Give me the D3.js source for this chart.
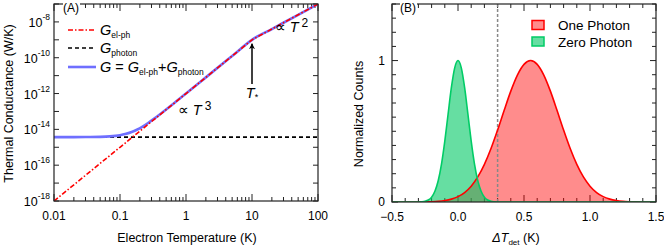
<!DOCTYPE html>
<html>
<head>
<meta charset="utf-8">
<script src="https://cdn.jsdelivr.net/npm/d3@7"></script>
<style>
  body { margin: 0; background: #fff; }
  svg text { font-family: "Liberation Sans", Arial, sans-serif; fill: #000; }
  .frame { fill: none; stroke: #222; stroke-width: 1.2; }
</style>
</head>
<body>
<div id="chart"></div>
<script>
// Panel A data: temperatures (K) and conductances (W/K)
const tempK = [0.01, 0.02, 0.03, 0.05, 0.07, 0.1, 0.12, 0.15, 0.18, 0.22, 0.27, 0.33, 0.4, 0.5, 0.7, 1, 2, 5, 10, 20, 50, 100];
const gElPh = [1e-18, 8e-18, 2.7e-17, 1.25e-16, 3.43e-16, 1e-15, 1.73e-15, 3.38e-15, 5.83e-15, 1.06e-14, 1.97e-14, 3.59e-14, 6.4e-14, 1.25e-13, 3.43e-13, 1e-12, 8e-12, 1.25e-10, 1e-9, 4e-9, 2.5e-8, 1e-7];
const gPhoton = 3.7e-15;
const yExpLabels = [-18, -16, -14, -12, -10, -8];
const xTickLabelsA = [0.01, 0.1, 1, 10, 100];

// Panel B data: detector temperature rise (K) vs normalized counts
const dTone = [-0.5, -0.45, -0.4, -0.35, -0.3, -0.25, -0.2, -0.15, -0.1, -0.05, 0, 0.05, 0.1, 0.15, 0.2, 0.25, 0.3, 0.35, 0.4, 0.45, 0.5, 0.55, 0.6, 0.65, 0.7, 0.75, 0.8, 0.85, 0.9, 0.95, 1.0, 1.05, 1.1, 1.15, 1.2, 1.25, 1.3, 1.35, 1.4, 1.45, 1.5];
const onePhoton = [0, 0, 0, 0.0002, 0.0004, 0.001, 0.0023, 0.005, 0.0104, 0.0204, 0.0379, 0.0669, 0.1119, 0.1771, 0.2658, 0.3778, 0.5086, 0.6488, 0.784, 0.8975, 0.9733, 1, 0.9733, 0.8975, 0.784, 0.6488, 0.5086, 0.3778, 0.2658, 0.1771, 0.1119, 0.0669, 0.0379, 0.0204, 0.0104, 0.005, 0.0023, 0.001, 0.0004, 0.0002, 0];
const dTzero = [-0.5, -0.35, -0.3, -0.275, -0.25, -0.225, -0.2, -0.175, -0.15, -0.125, -0.1, -0.075, -0.05, -0.025, 0, 0.025, 0.05, 0.075, 0.1, 0.125, 0.15, 0.175, 0.2, 0.225, 0.25, 0.275, 0.3, 0.35, 1.5];
const zeroPhoton = [0, 0, 0.0005, 0.0017, 0.0051, 0.014, 0.0343, 0.0756, 0.1499, 0.2678, 0.4303, 0.6223, 0.81, 0.9487, 1, 0.9487, 0.81, 0.6223, 0.4303, 0.2678, 0.1499, 0.0756, 0.0343, 0.014, 0.0051, 0.0017, 0.0005, 0, 0];
const threshold = 0.3;
const legendB = ["One Photon", "Zero Photon"];
const xTickLabelsB = [-0.5, 0, 0.5, 1, 1.5];

const W = 664, H = 246;
let svg = d3.select("#chart").append("svg")
  .attr("width", W).attr("height", H);

// ---------- Panel A ----------
const a = { left: 54, right: 318, top: 4, bottom: 201 };
let xA = d3.scaleLog().domain([0.01, 100]).range([a.left, a.right]);
let yA = d3.scaleLog().domain([1e-18, 1e-7]).range([a.bottom, a.top]);

let gA = svg.append("g");

// minor / major x ticks (log)
let xTicksA = [];
for (let p = -2; p < 2; p++) for (let m = 1; m < 10; m++) xTicksA.push(m * Math.pow(10, p));
xTicksA.push(100);
xTicksA.forEach(t => {
  const major = xTickLabelsA.includes(+t.toPrecision(3));
  const len = major ? 7 : 4;
  gA.append("line").attr("x1", xA(t)).attr("x2", xA(t)).attr("y1", a.bottom).attr("y2", a.bottom - len).attr("stroke", "#222");
  gA.append("line").attr("x1", xA(t)).attr("x2", xA(t)).attr("y1", a.top).attr("y2", a.top + len).attr("stroke", "#222");
});
xTickLabelsA.forEach(t => {
  gA.append("text").attr("x", xA(t)).attr("y", a.bottom + 19)
    .attr("text-anchor", "middle").attr("font-size", 12).text(t);
});

// y ticks each decade
d3.range(-18, -6).forEach(p => {
  const v = Math.pow(10, p);
  gA.append("line").attr("x1", a.left).attr("x2", a.left + 5).attr("y1", yA(v)).attr("y2", yA(v)).attr("stroke", "#222");
  gA.append("line").attr("x1", a.right).attr("x2", a.right - 5).attr("y1", yA(v)).attr("y2", yA(v)).attr("stroke", "#222");
});
yExpLabels.forEach(p => {
  const t = gA.append("text").attr("x", a.left - 4).attr("y", yA(Math.pow(10, p)) + 5)
    .attr("text-anchor", "end").attr("font-size", 12.5);
  t.append("tspan").text("10");
  t.append("tspan").attr("dy", -7).attr("font-size", 8.5).text("-" + Math.abs(p));
});

// axis titles
gA.append("text").attr("transform", "translate(13," + ((a.top + a.bottom) / 2 + 1) + ") rotate(-90)")
  .attr("text-anchor", "middle").attr("font-size", 12.5).text("Thermal Conductance (W/K)");
gA.append("text").attr("x", (a.left + a.right) / 2 + 1).attr("y", 242)
  .attr("text-anchor", "middle").attr("font-size", 12.5).text("Electron Temperature (K)");

// curves
const clipA = svg.append("clipPath").attr("id", "clipA").append("rect")
  .attr("x", a.left).attr("y", a.top).attr("width", a.right - a.left).attr("height", a.bottom - a.top);
let plotA = gA.append("g").attr("clip-path", "url(#clipA)");

const pts = tempK.map((t, i) => ({ t, el: gElPh[i], tot: gElPh[i] + gPhoton }));
const lineTot = d3.line().x(d => xA(d.t)).y(d => yA(d.tot)).curve(d3.curveMonotoneX);
const lineEl = d3.line().x(d => xA(d.t)).y(d => yA(d.el));

plotA.append("line").attr("x1", xA(0.01)).attr("x2", xA(100))
  .attr("y1", yA(gPhoton)).attr("y2", yA(gPhoton))
  .attr("stroke", "#000").attr("stroke-width", 1.6).attr("stroke-dasharray", "4,3");
plotA.append("path").datum(pts).attr("d", lineTot)
  .attr("fill", "none").attr("stroke", "#6f6fff").attr("stroke-width", 2.6);
plotA.append("path").datum(pts).attr("d", lineEl)
  .attr("fill", "none").attr("stroke", "#ff0000").attr("stroke-width", 1.6)
  .attr("stroke-dasharray", "5,2,1.5,2");

gA.append("rect").attr("class", "frame")
  .attr("x", a.left).attr("y", a.top).attr("width", a.right - a.left).attr("height", a.bottom - a.top);

// panel label (sits over the frame)
gA.append("rect").attr("x", a.left + 9).attr("y", a.top - 3).attr("width", 17).attr("height", 11).attr("fill", "#fff");
gA.append("text").attr("x", a.left + 9).attr("y", a.top + 8).attr("font-size", 12).text("(A)");

// legend A
const legA = gA.append("g");
const legRows = [
  { y: 30, stroke: "#ff0000", w: 1.6, dash: "5,2,1.5,2", parts: [["G", ""], ["el-ph", "sub"]] },
  { y: 48, stroke: "#000", w: 1.6, dash: "4,3", parts: [["G", ""], ["photon", "sub"]] },
  { y: 67, stroke: "#6f6fff", w: 2.6, dash: null, parts: [["G", ""], [" = ", "up"], ["G", ""], ["el-ph", "sub"], ["+", "up"], ["G", ""], ["photon", "sub"]] }
];
legRows.forEach(r => {
  legA.append("line").attr("x1", 68).attr("x2", 96).attr("y1", r.y).attr("y2", r.y)
    .attr("stroke", r.stroke).attr("stroke-width", r.w).attr("stroke-dasharray", r.dash);
  const t = legA.append("text").attr("x", 100).attr("y", r.y + 5).attr("font-size", 14.5);
  let low = false;
  r.parts.forEach(([s, k]) => {
    const sp = t.append("tspan").text(s);
    if (k === "sub") {
      sp.attr("font-size", 8.5).attr("dy", low ? 0 : 3); low = true;
    } else {
      sp.attr("dy", low ? -3 : 0); low = false;
      if (s === "G") sp.attr("font-style", "italic");
    }
  });
});

// annotations
const t3 = gA.append("text").attr("x", xA(0.75)).attr("y", yA(1.2e-13) + 5).attr("font-size", 14.5);
t3.append("tspan").text("\u221D ");
t3.append("tspan").attr("font-style", "italic").text("T");
t3.append("tspan").attr("dy", -5).attr("dx", 3).attr("font-size", 12).text("3");

const t2 = gA.append("text").attr("x", xA(22)).attr("y", yA(5.2e-9) + 5).attr("font-size", 14.5);
t2.append("tspan").text("\u221D ");
t2.append("tspan").attr("font-style", "italic").text("T");
t2.append("tspan").attr("dy", -5).attr("dx", 3).attr("font-size", 12).text("2");

svg.append("defs").append("marker").attr("id", "arrow")
  .attr("viewBox", "0 0 10 10").attr("refX", 9).attr("refY", 5)
  .attr("markerWidth", 4).attr("markerHeight", 5).attr("orient", "auto")
  .append("path").attr("d", "M0,0 L10,5 L0,10 L3,5 Z").attr("fill", "#000");
gA.append("line").attr("x1", xA(10)).attr("x2", xA(10))
  .attr("y1", yA(3.4e-12)).attr("y2", yA(6e-10))
  .attr("stroke", "#000").attr("stroke-width", 1.5).attr("marker-end", "url(#arrow)");
const ts = gA.append("text").attr("x", xA(10)).attr("y", yA(1.1e-12) + 5)
  .attr("text-anchor", "middle").attr("font-size", 14.5);
ts.append("tspan").attr("font-style", "italic").text("T");
ts.append("tspan").attr("dy", 2).attr("font-size", 9).text("*");

// ---------- Panel B ----------
const b = { left: 392, right: 656, top: 4, bottom: 202 };
let xB = d3.scaleLinear().domain([-0.5, 1.5]).range([b.left, b.right]);
let yB = d3.scaleLinear().domain([0, 1.4]).range([b.bottom, b.top]);
let gB = svg.append("g");

d3.range(-5, 16).forEach(i => {
  const v = i / 10;
  const len = (i % 5 === 0) ? 7 : 4;
  gB.append("line").attr("x1", xB(v)).attr("x2", xB(v)).attr("y1", b.bottom).attr("y2", b.bottom - len).attr("stroke", "#222");
  gB.append("line").attr("x1", xB(v)).attr("x2", xB(v)).attr("y1", b.top).attr("y2", b.top + len).attr("stroke", "#222");
});
d3.range(0, 15).forEach(i => {
  const v = i / 10;
  const len = (i % 10 === 0) ? 6 : 4;
  gB.append("line").attr("x1", b.left).attr("x2", b.left + len).attr("y1", yB(v)).attr("y2", yB(v)).attr("stroke", "#222");
  gB.append("line").attr("x1", b.right).attr("x2", b.right - len).attr("y1", yB(v)).attr("y2", yB(v)).attr("stroke", "#222");
});
xTickLabelsB.forEach(v => {
  gB.append("text").attr("x", xB(v)).attr("y", b.bottom + 19).attr("text-anchor", "middle")
    .attr("font-size", 12).text(d3.format(".1f")(v));
});
[0, 1].forEach(v => {
  gB.append("text").attr("x", b.left - 7).attr("y", yB(v) + 4).attr("text-anchor", "end")
    .attr("font-size", 12).text(v);
});

gB.append("text").attr("transform", "translate(363," + ((b.top + b.bottom) / 2 + 11) + ") rotate(-90)")
  .attr("text-anchor", "middle").attr("font-size", 12.5).text("Normalized Counts");
const xlab = gB.append("text").attr("x", (b.left + b.right) / 2 - 8).attr("y", 242)
  .attr("text-anchor", "middle").attr("font-size", 12.5);
xlab.append("tspan").attr("font-style", "italic").text("\u0394T");
xlab.append("tspan").attr("dy", 3).attr("font-size", 8).text("det");
xlab.append("tspan").attr("dy", -3).text(" (K)");

const clipB = svg.append("clipPath").attr("id", "clipB").append("rect")
  .attr("x", b.left).attr("y", b.top).attr("width", b.right - b.left).attr("height", b.bottom - b.top);
let plotB = gB.append("g").attr("clip-path", "url(#clipB)");

const oneData = dTone.map((x, i) => [x, onePhoton[i]]);
const zeroData = dTzero.map((x, i) => [x, zeroPhoton[i]]);
const area = d3.area().x(d => xB(d[0])).y0(yB(0)).y1(d => yB(d[1])).curve(d3.curveMonotoneX);
const line = d3.line().x(d => xB(d[0])).y(d => yB(d[1])).curve(d3.curveMonotoneX);

plotB.append("path").datum(oneData).attr("d", area).attr("fill", "rgba(255,0,0,0.45)");
plotB.append("path").datum(zeroData).attr("d", area).attr("fill", "rgba(0,200,100,0.6)");
plotB.append("line").attr("x1", xB(threshold)).attr("x2", xB(threshold)).attr("y1", b.top).attr("y2", b.bottom)
  .attr("stroke", "#888").attr("stroke-width", 1.5).attr("stroke-dasharray", "3,2");
plotB.append("path").datum(oneData).attr("d", line).attr("fill", "none").attr("stroke", "#ff0000").attr("stroke-width", 1.6);
plotB.append("path").datum(zeroData).attr("d", line).attr("fill", "none").attr("stroke", "#00cc66").attr("stroke-width", 1.6);

gB.append("rect").attr("class", "frame")
  .attr("x", b.left).attr("y", b.top).attr("width", b.right - b.left).attr("height", b.bottom - b.top);
gB.append("rect").attr("x", b.left + 8).attr("y", b.top - 3).attr("width", 17).attr("height", 11).attr("fill", "#fff");
gB.append("text").attr("x", b.left + 8).attr("y", b.top + 8).attr("font-size", 12).text("(B)");

// legend B
const legCols = [["rgba(255,0,0,0.45)", "#ff0000"], ["rgba(0,200,100,0.6)", "#00cc66"]];
legendB.forEach((name, i) => {
  const y = 25 + i * 16.5;
  gB.append("rect").attr("x", 532).attr("y", y - 4.5).attr("width", 12).attr("height", 9)
    .attr("fill", legCols[i][0]).attr("stroke", legCols[i][1]).attr("stroke-width", 1.5);
  gB.append("text").attr("x", 558).attr("y", y + 5).attr("font-size", 13.5).text(name);
});
</script>
</body>
</html>
